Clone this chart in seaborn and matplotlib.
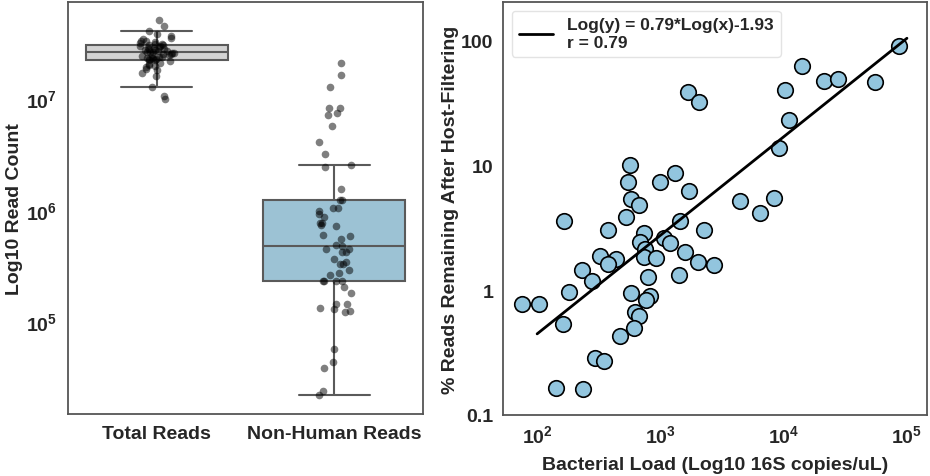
# ====== 0. Force non-GUI backend ======
import matplotlib
matplotlib.use('Agg')

# ====== 1. Imports ======
import numpy as np
import pandas as pd
import matplotlib.pyplot as plt
import matplotlib.ticker as ticker
import seaborn as sns

# ====== 2. Data ======
# Left panel: read counts per sample
total_reads = [
    5.1e7, 4.5e7, 4.0e7, 3.8e7, 3.6e7, 3.5e7, 3.4e7, 3.3e7, 3.25e7, 3.2e7,
    3.15e7, 3.1e7, 3.05e7, 3.0e7,
    2.99e7, 2.97e7, 2.93e7, 2.90e7, 2.86e7, 2.83e7, 2.80e7, 2.77e7, 2.74e7, 2.71e7,
    2.68e7, 2.65e7, 2.63e7, 2.61e7, 2.60e7, 2.58e7, 2.55e7, 2.52e7, 2.49e7, 2.46e7,
    2.43e7, 2.40e7, 2.37e7, 2.35e7, 2.32e7, 2.30e7, 2.28e7, 2.26e7, 2.24e7, 2.23e7,
    2.20e7, 2.15e7, 2.10e7, 2.05e7, 2.0e7, 1.95e7, 1.9e7, 1.85e7, 1.8e7, 1.7e7,
    1.58e7, 1.27e7, 1.05e7, 9.96e6,
]
nonhuman_reads = [
    2.08e7, 1.63e7, 1.28e7, 8.17e6, 8.17e6, 7.41e6, 7.16e6, 5.66e6, 4.10e6, 3.16e6,
    2.51e6, 2.45e6, 1.53e6, 1.24e6, 1.24e6, 1.04e6, 1.04e6, 9.73e5, 9.20e5, 8.59e5,
    7.69e5, 7.69e5, 7.33e5, 7.23e5, 6.00e5, 5.89e5, 5.50e5, 4.89e5, 4.72e5, 4.43e5,
    4.43e5, 4.17e5, 4.17e5, 3.64e5, 3.39e5, 3.25e5, 3.25e5, 2.89e5, 2.72e5, 2.62e5,
    2.33e5, 2.33e5, 2.33e5, 2.33e5, 2.03e5, 1.79e5, 1.44e5, 1.44e5, 1.31e5, 1.29e5,
    1.24e5, 1.22e5, 5.66e4, 4.36e4, 3.80e4, 2.39e4, 2.19e4,
]
read_groups = ["Total Reads", "Non-Human Reads"]
box_colors = ["#d3d3d3", "#92c5de"]

# Right panel: bacterial load vs % reads remaining
bacterial_load = [
    85700, 14100, 21100, 27400, 54700, 10300, 1680, 2070, 11100, 9120,
    571, 1306, 547, 989, 1718, 582, 676, 4460, 8300, 6380,
    164, 530, 1452, 376, 2276, 733, 1064, 1205, 689, 755,
    1596, 326, 439, 733, 929, 374, 2010, 2740, 232, 279,
    1406, 789, 180, 582, 818, 769, 75.2, 104, 627, 667,
    163, 615, 468, 297, 347, 141, 234,
]
pct_remaining = [
    91.6, 63.2, 48.0, 49.5, 46.6, 40.4, 38.7, 32.5, 23.2, 13.8,
    10.0, 8.67, 7.35, 7.35, 6.3, 5.4, 4.83, 5.17, 5.47, 4.14,
    3.61, 3.89, 3.61, 3.05, 3.06, 2.86, 2.62, 2.38, 2.45, 2.14,
    2.02, 1.89, 1.78, 1.84, 1.81, 1.63, 1.69, 1.60, 1.46, 1.19,
    1.33, 1.27, 0.964, 0.946, 0.905, 0.841, 0.776, 0.776, 0.667, 0.626,
    0.537, 0.499, 0.428, 0.286, 0.270, 0.165, 0.162,
]
fit_slope = 0.79
fit_intercept = -1.93
fit_r = 0.79
fit_x = [1e2, 1e5]

# ====== 3. Style ======
sns.set_style("white")
plt.rcParams['font.family'] = ['Liberation Sans', 'DejaVu Sans']
plt.rcParams['font.weight'] = 'bold'
plt.rcParams['axes.labelweight'] = 'bold'
plt.rcParams['axes.edgecolor'] = '#555555'
plt.rcParams['axes.linewidth'] = 1.3

fig = plt.figure(figsize=(9.3, 4.77), dpi=100)
ax1 = fig.add_axes([0.073, 0.130, 0.382, 0.864])
ax2 = fig.add_axes([0.541, 0.128, 0.456, 0.866])

# ====== 4. Left: boxplot + strip ======
box_df = pd.DataFrame({
    "Read Type": [read_groups[0]] * len(total_reads) + [read_groups[1]] * len(nonhuman_reads),
    "Count": total_reads + nonhuman_reads,
})
sns.boxplot(data=box_df, x="Read Type", y="Count", hue="Read Type",
            order=read_groups, palette=box_colors, showfliers=False,
            linewidth=1.5, linecolor="#5a5a5a", legend=False, ax=ax1)
np.random.seed(3)
sns.stripplot(data=box_df, x="Read Type", y="Count", order=read_groups,
              color="black", alpha=0.5, size=5.5, jitter=0.1, ax=ax1)
ax1.set_yscale("log")
ax1.set_ylim(1.48e4, 7.35e7)
ax1.set_xlabel("")
ax1.set_ylabel("Log10 Read Count", fontsize=14)
ax1.tick_params(axis='both', labelsize=14, length=0, pad=8)
ax1.yaxis.set_label_coords(-0.127, 0.5)

# ====== 5. Right: scatter + fit line ======
scat_df = pd.DataFrame({"load": bacterial_load, "pct": pct_remaining})
sns.scatterplot(data=scat_df, x="load", y="pct", color="#92c5de",
                edgecolor="black", linewidth=1.2, s=125, zorder=3, ax=ax2)
fit_y = [10 ** (fit_slope * np.log10(v) + fit_intercept) for v in fit_x]
ax2.plot(fit_x, fit_y, color="black", lw=2, zorder=4,
         label=f"Log(y) = {fit_slope}*Log(x){fit_intercept}\nr = {fit_r}")
ax2.set_xscale("log")
ax2.set_yscale("log")
ax2.set_xlim(53, 1.46e5)
ax2.set_ylim(0.1, 205)
ax2.set_xticks([1e2, 1e3, 1e4, 1e5])
ax2.set_yticks([0.1, 1, 10, 100])
ax2.yaxis.set_major_formatter(ticker.FuncFormatter(lambda v, p: f"{v:g}"))
ax2.yaxis.set_minor_locator(ticker.NullLocator())
ax2.xaxis.set_minor_locator(ticker.NullLocator())
ax2.set_xlabel("Bacterial Load (Log10 16S copies/uL)", fontsize=14)
ax2.set_ylabel("% Reads Remaining After Host-Filtering", fontsize=14)
ax2.tick_params(axis='both', labelsize=14, length=0, pad=7)
ax2.yaxis.set_label_coords(-0.104, 0.5)
ax2.xaxis.set_label_coords(0.5, -0.099)
leg = ax2.legend(loc="upper left", fontsize=12.5, frameon=True,
                 handlelength=2.0, borderaxespad=0.5)
leg.get_frame().set_edgecolor("#dddddd")

for ax in (ax1, ax2):
    for spine in ax.spines.values():
        spine.set_visible(True)

fig.savefig("out.png", dpi=100)
